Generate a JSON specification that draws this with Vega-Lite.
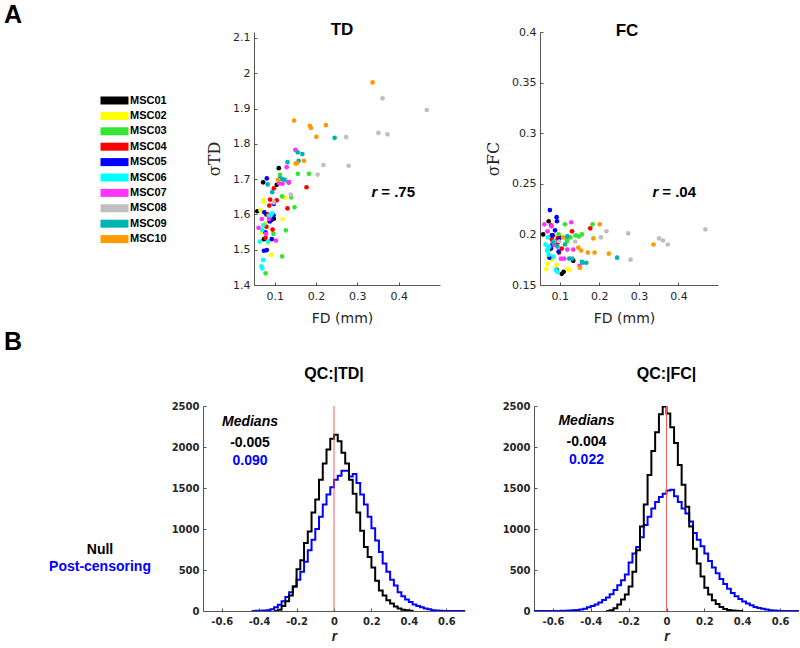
{
"$schema":"https://vega.github.io/schema/vega-lite/v6.json",
"background":"white",
"padding":{"left":4,"top":2,"right":0,"bottom":0},
"config":{
 "view":{"stroke":null},
 "axis":{"grid":false,"domainColor":"#555555","tickColor":"#555555","labelColor":"#262626","titleColor":"#262626","labelFont":"DejaVu Sans","labelFontSize":11,"tickSize":-3,"labelPadding":7,"titleFont":"DejaVu Sans","titleFontWeight":"normal","domainWidth":1,"labelOverlap":false,"labelFlush":false},
 "title":{"font":"Liberation Sans","fontWeight":"bold","color":"#000000","frame":"group"},
 "legend":{"labelFont":"Liberation Sans","labelFontWeight":"bold","labelColor":"#000000","padding":0}
},
"datasets":{
 "scatter":[
  {"subject":"MSC01","FD":0.058,"TD":1.609,"FC":0.200},{"subject":"MSC01","FD":0.072,"TD":1.691,"FC":0.213},{"subject":"MSC01","FD":0.074,"TD":1.530,"FC":0.186},{"subject":"MSC01","FD":0.080,"TD":1.600,"FC":0.199},{"subject":"MSC01","FD":0.092,"TD":1.590,"FC":0.165},{"subject":"MSC01","FD":0.095,"TD":1.595,"FC":0.192},{"subject":"MSC01","FD":0.098,"TD":1.588,"FC":0.197},{"subject":"MSC01","FD":0.105,"TD":1.684,"FC":0.161},{"subject":"MSC01","FD":0.110,"TD":1.731,"FC":0.163},{"subject":"MSC01","FD":0.134,"TD":1.691,"FC":0.174},
  {"subject":"MSC02","FD":0.066,"TD":1.612,"FC":0.166},{"subject":"MSC02","FD":0.069,"TD":1.549,"FC":0.171},{"subject":"MSC02","FD":0.072,"TD":1.636,"FC":0.177},{"subject":"MSC02","FD":0.073,"TD":1.641,"FC":0.184},{"subject":"MSC02","FD":0.070,"TD":1.560,"FC":0.186},{"subject":"MSC02","FD":0.092,"TD":1.486,"FC":0.170},{"subject":"MSC02","FD":0.119,"TD":1.587,"FC":0.166},{"subject":"MSC02","FD":0.125,"TD":1.648,"FC":0.165},{"subject":"MSC02","FD":0.078,"TD":1.575,"FC":0.175},{"subject":"MSC02","FD":0.085,"TD":1.520,"FC":0.192},
  {"subject":"MSC03","FD":0.078,"TD":1.433,"FC":0.197},{"subject":"MSC03","FD":0.097,"TD":1.545,"FC":0.200},{"subject":"MSC03","FD":0.113,"TD":1.712,"FC":0.210},{"subject":"MSC03","FD":0.118,"TD":1.651,"FC":0.195},{"subject":"MSC03","FD":0.118,"TD":1.481,"FC":0.193},{"subject":"MSC03","FD":0.127,"TD":1.555,"FC":0.197},{"subject":"MSC03","FD":0.140,"TD":1.648,"FC":0.199},{"subject":"MSC03","FD":0.148,"TD":1.620,"FC":0.198},{"subject":"MSC03","FD":0.156,"TD":1.715,"FC":0.200},{"subject":"MSC03","FD":0.183,"TD":1.715,"FC":0.210},
  {"subject":"MSC04","FD":0.177,"TD":1.677,"FC":0.206},{"subject":"MSC04","FD":0.098,"TD":1.674,"FC":0.182},{"subject":"MSC04","FD":0.089,"TD":1.642,"FC":0.193},{"subject":"MSC04","FD":0.087,"TD":1.625,"FC":0.190},{"subject":"MSC04","FD":0.131,"TD":1.617,"FC":0.203},{"subject":"MSC04","FD":0.095,"TD":1.557,"FC":0.196},{"subject":"MSC04","FD":0.078,"TD":1.533,"FC":0.209},{"subject":"MSC04","FD":0.083,"TD":1.600,"FC":0.199},{"subject":"MSC04","FD":0.080,"TD":1.565,"FC":0.195},{"subject":"MSC04","FD":0.105,"TD":1.640,"FC":0.186},
  {"subject":"MSC05","FD":0.081,"TD":1.702,"FC":0.199},{"subject":"MSC05","FD":0.098,"TD":1.630,"FC":0.195},{"subject":"MSC05","FD":0.075,"TD":1.606,"FC":0.224},{"subject":"MSC05","FD":0.092,"TD":1.584,"FC":0.217},{"subject":"MSC05","FD":0.078,"TD":1.549,"FC":0.186},{"subject":"MSC05","FD":0.093,"TD":1.530,"FC":0.213},{"subject":"MSC05","FD":0.081,"TD":1.499,"FC":0.190},{"subject":"MSC05","FD":0.074,"TD":1.497,"FC":0.177},{"subject":"MSC05","FD":0.097,"TD":1.598,"FC":0.183},{"subject":"MSC05","FD":0.088,"TD":1.580,"FC":0.204},
  {"subject":"MSC06","FD":0.064,"TD":1.523,"FC":0.190},{"subject":"MSC06","FD":0.068,"TD":1.453,"FC":0.184},{"subject":"MSC06","FD":0.070,"TD":1.447,"FC":0.197},{"subject":"MSC06","FD":0.070,"TD":1.556,"FC":0.186},{"subject":"MSC06","FD":0.072,"TD":1.471,"FC":0.180},{"subject":"MSC06","FD":0.073,"TD":1.570,"FC":0.188},{"subject":"MSC06","FD":0.084,"TD":1.523,"FC":0.178},{"subject":"MSC06","FD":0.086,"TD":1.596,"FC":0.193},{"subject":"MSC06","FD":0.090,"TD":1.596,"FC":0.165},{"subject":"MSC06","FD":0.094,"TD":1.603,"FC":0.163},
  {"subject":"MSC07","FD":0.150,"TD":1.783,"FC":0.169},{"subject":"MSC07","FD":0.129,"TD":1.734,"FC":0.212},{"subject":"MSC07","FD":0.111,"TD":1.688,"FC":0.176},{"subject":"MSC07","FD":0.119,"TD":1.687,"FC":0.185},{"subject":"MSC07","FD":0.134,"TD":1.691,"FC":0.185},{"subject":"MSC07","FD":0.069,"TD":1.587,"FC":0.203},{"subject":"MSC07","FD":0.061,"TD":1.562,"FC":0.210},{"subject":"MSC07","FD":0.086,"TD":1.587,"FC":0.190},{"subject":"MSC07","FD":0.103,"TD":1.526,"FC":0.176},{"subject":"MSC07","FD":0.079,"TD":1.545,"FC":0.208},
  {"subject":"MSC08","FD":0.361,"TD":1.929,"FC":0.194},{"subject":"MSC08","FD":0.468,"TD":1.896,"FC":0.205},{"subject":"MSC08","FD":0.351,"TD":1.831,"FC":0.196},{"subject":"MSC08","FD":0.373,"TD":1.827,"FC":0.190},{"subject":"MSC08","FD":0.273,"TD":1.819,"FC":0.201},{"subject":"MSC08","FD":0.218,"TD":1.740,"FC":0.203},{"subject":"MSC08","FD":0.279,"TD":1.738,"FC":0.175},{"subject":"MSC08","FD":0.204,"TD":1.713,"FC":0.197},{"subject":"MSC08","FD":0.139,"TD":1.656,"FC":0.193},{"subject":"MSC08","FD":0.098,"TD":1.634,"FC":0.193},
  {"subject":"MSC09","FD":0.245,"TD":1.817,"FC":0.177},{"subject":"MSC09","FD":0.156,"TD":1.776,"FC":0.173},{"subject":"MSC09","FD":0.167,"TD":1.771,"FC":0.172},{"subject":"MSC09","FD":0.131,"TD":1.748,"FC":0.176},{"subject":"MSC09","FD":0.158,"TD":1.752,"FC":0.172},{"subject":"MSC09","FD":0.124,"TD":1.698,"FC":0.176},{"subject":"MSC09","FD":0.119,"TD":1.700,"FC":0.198},{"subject":"MSC09","FD":0.083,"TD":1.685,"FC":0.192},{"subject":"MSC09","FD":0.094,"TD":1.663,"FC":0.188},{"subject":"MSC09","FD":0.113,"TD":1.702,"FC":0.190},
  {"subject":"MSC10","FD":0.337,"TD":1.974,"FC":0.190},{"subject":"MSC10","FD":0.147,"TD":1.866,"FC":0.187},{"subject":"MSC10","FD":0.185,"TD":1.851,"FC":0.196},{"subject":"MSC10","FD":0.188,"TD":1.845,"FC":0.182},{"subject":"MSC10","FD":0.224,"TD":1.853,"FC":0.181},{"subject":"MSC10","FD":0.201,"TD":1.820,"FC":0.210},{"subject":"MSC10","FD":0.171,"TD":1.752,"FC":0.182},{"subject":"MSC10","FD":0.151,"TD":1.744,"FC":0.167},{"subject":"MSC10","FD":0.154,"TD":1.746,"FC":0.184},{"subject":"MSC10","FD":0.108,"TD":1.698,"FC":0.197}
 ],
 "histTD":[
  {"r":-0.44,"Post-censoring":0},{"r":-0.42,"Post-censoring":2},{"r":-0.40,"Post-censoring":4},{"r":-0.38,"Post-censoring":6},{"r":-0.36,"Post-censoring":10},{"r":-0.34,"Post-censoring":20},
  {"r":-0.32,"Null":0,"Post-censoring":45},{"r":-0.30,"Null":15,"Post-censoring":75},{"r":-0.28,"Null":60,"Post-censoring":120},{"r":-0.26,"Null":120,"Post-censoring":170},{"r":-0.24,"Null":190,"Post-censoring":230},{"r":-0.22,"Null":300,"Post-censoring":300},{"r":-0.20,"Null":510,"Post-censoring":380},{"r":-0.18,"Null":620,"Post-censoring":480},{"r":-0.16,"Null":830,"Post-censoring":600},{"r":-0.14,"Null":970,"Post-censoring":740},{"r":-0.12,"Null":1200,"Post-censoring":870},{"r":-0.10,"Null":1360,"Post-censoring":1000},{"r":-0.08,"Null":1600,"Post-censoring":1150},{"r":-0.06,"Null":1800,"Post-censoring":1300},{"r":-0.04,"Null":1970,"Post-censoring":1420},{"r":-0.02,"Null":2100,"Post-censoring":1510},{"r":0.00,"Null":2150,"Post-censoring":1600},{"r":0.02,"Null":2070,"Post-censoring":1650},{"r":0.04,"Null":1930,"Post-censoring":1710},{"r":0.06,"Null":1800,"Post-censoring":1710},{"r":0.08,"Null":1600,"Post-censoring":1640},{"r":0.10,"Null":1430,"Post-censoring":1670},{"r":0.12,"Null":1200,"Post-censoring":1560},{"r":0.14,"Null":980,"Post-censoring":1420},{"r":0.16,"Null":780,"Post-censoring":1300},{"r":0.18,"Null":660,"Post-censoring":1150},{"r":0.20,"Null":530,"Post-censoring":1010},{"r":0.22,"Null":370,"Post-censoring":860},{"r":0.24,"Null":250,"Post-censoring":720},{"r":0.26,"Null":190,"Post-censoring":580},{"r":0.28,"Null":130,"Post-censoring":480},{"r":0.30,"Null":90,"Post-censoring":380},{"r":0.32,"Null":55,"Post-censoring":310},{"r":0.34,"Null":30,"Post-censoring":230},{"r":0.36,"Null":15,"Post-censoring":180},{"r":0.38,"Null":8,"Post-censoring":140},{"r":0.40,"Null":3,"Post-censoring":110},{"r":0.42,"Null":0,"Post-censoring":80},
  {"r":0.44,"Post-censoring":60},{"r":0.46,"Post-censoring":45},{"r":0.48,"Post-censoring":30},{"r":0.50,"Post-censoring":20},{"r":0.52,"Post-censoring":10},{"r":0.54,"Post-censoring":5},{"r":0.56,"Post-censoring":2},{"r":0.58,"Post-censoring":0},{"r":0.70,"Post-censoring":0}
 ],
 "histFC":[
  {"r":-0.70,"Post-censoring":0},{"r":-0.56,"Post-censoring":2},{"r":-0.54,"Post-censoring":3},{"r":-0.52,"Post-censoring":5},{"r":-0.50,"Post-censoring":8},{"r":-0.48,"Post-censoring":12},{"r":-0.46,"Post-censoring":18},{"r":-0.44,"Post-censoring":28},{"r":-0.42,"Post-censoring":45},{"r":-0.40,"Post-censoring":60},{"r":-0.38,"Post-censoring":80},{"r":-0.36,"Post-censoring":105},{"r":-0.34,"Post-censoring":135},
  {"r":-0.32,"Null":0,"Post-censoring":165},{"r":-0.30,"Null":8,"Post-censoring":205},{"r":-0.28,"Null":35,"Post-censoring":255},{"r":-0.26,"Null":80,"Post-censoring":315},{"r":-0.24,"Null":140,"Post-censoring":375},{"r":-0.22,"Null":200,"Post-censoring":445},{"r":-0.20,"Null":300,"Post-censoring":590},{"r":-0.18,"Null":480,"Post-censoring":700},{"r":-0.16,"Null":740,"Post-censoring":780},{"r":-0.14,"Null":1030,"Post-censoring":900},{"r":-0.12,"Null":1300,"Post-censoring":1050},{"r":-0.10,"Null":1660,"Post-censoring":1150},{"r":-0.08,"Null":1950,"Post-censoring":1250},{"r":-0.06,"Null":2180,"Post-censoring":1330},{"r":-0.04,"Null":2400,"Post-censoring":1390},{"r":-0.02,"Null":2495,"Post-censoring":1430},{"r":0.00,"Null":2410,"Post-censoring":1470},{"r":0.02,"Null":2240,"Post-censoring":1480},{"r":0.04,"Null":2050,"Post-censoring":1400},{"r":0.06,"Null":1780,"Post-censoring":1330},{"r":0.08,"Null":1540,"Post-censoring":1250},{"r":0.10,"Null":1270,"Post-censoring":1190},{"r":0.12,"Null":1030,"Post-censoring":1090},{"r":0.14,"Null":760,"Post-censoring":950},{"r":0.16,"Null":580,"Post-censoring":870},{"r":0.18,"Null":420,"Post-censoring":790},{"r":0.20,"Null":285,"Post-censoring":700},{"r":0.22,"Null":200,"Post-censoring":610},{"r":0.24,"Null":130,"Post-censoring":530},{"r":0.26,"Null":85,"Post-censoring":460},{"r":0.28,"Null":50,"Post-censoring":390},{"r":0.30,"Null":25,"Post-censoring":330},{"r":0.32,"Null":12,"Post-censoring":270},{"r":0.34,"Null":6,"Post-censoring":220},{"r":0.36,"Null":3,"Post-censoring":180},{"r":0.38,"Null":1,"Post-censoring":145},{"r":0.40,"Null":0,"Post-censoring":115},
  {"r":0.42,"Post-censoring":90},{"r":0.44,"Post-censoring":70},{"r":0.46,"Post-censoring":50},{"r":0.48,"Post-censoring":38},{"r":0.50,"Post-censoring":28},{"r":0.52,"Post-censoring":18},{"r":0.54,"Post-censoring":10},{"r":0.56,"Post-censoring":5},{"r":0.58,"Post-censoring":2},{"r":0.60,"Post-censoring":0},{"r":0.70,"Post-censoring":0}
 ]
},
"vconcat":[
 {
  "hconcat":[
   {"width":150,"height":253,"title":{"text":"A","anchor":"start","baseline":"alphabetic","offset":-15.5,"fontSize":25},"data":{"values":[{"k":1}]},"mark":{"type":"point","opacity":0}},
   {
    "width":186,"height":253,
    "title":{"text":"TD","anchor":"middle","baseline":"alphabetic","offset":-20,"fontSize":17,"dx":-5},
    "data":{"name":"scatter"},
    "layer":[
     {"mark":{"type":"circle","size":22,"opacity":1},
      "encoding":{
       "x":{"field":"FD","type":"quantitative","scale":{"domain":[0.05,0.5],"nice":false,"zero":false},"axis":{"values":[0.1,0.2,0.3,0.4],"tickCount":10,"format":"~g","labelOverlap":false,"title":"FD (mm)","titleFontSize":14,"titlePadding":10,"labelPadding":8,"titleX":88}},
       "y":{"field":"TD","type":"quantitative","scale":{"domain":[1.4,2.117],"nice":false,"zero":false},"axis":{"values":[1.4,1.5,1.6,1.7,1.8,1.9,2,2.1],"tickCount":12,"labelExpr":"datum.value > 1.95 && datum.value < 2.05 ? '2' : format(datum.value, '.1f')","labelOverlap":false,"title":"σTD","titleFont":"DejaVu Serif","titleFontSize":16,"titlePadding":10,"labelPadding":7}},
       "color":{"field":"subject","type":"nominal","scale":{"domain":["MSC01","MSC02","MSC03","MSC04","MSC05","MSC06","MSC07","MSC08","MSC09","MSC10"],"range":["#000000","#ffff00","#33e633","#ff0000","#0000ff","#00ffff","#ff33ff","#bfbfbf","#00b3b3","#ff9900"]},
        "legend":{"orient":"none","legendX":-155,"legendY":63,"title":null,"symbolType":"M-1,-1H6V1H-1Z","symbolSize":64,"symbolStrokeWidth":0,"symbolOpacity":1,"labelOffset":20,"labelFontSize":11,"rowPadding":3.4}}
      }},
     {"data":{"values":[{"t":"r"}]},"mark":{"type":"text","font":"Liberation Sans","fontSize":15,"fontWeight":"bold","fontStyle":"italic","align":"right","baseline":"middle","dx":-2},"encoding":{"text":{"field":"t"},"x":{"datum":0.353},"y":{"datum":1.663}}},
     {"data":{"values":[{"t":"= .75"}]},"mark":{"type":"text","font":"Liberation Sans","fontSize":15,"fontWeight":"bold","align":"left","baseline":"middle","dx":2},"encoding":{"text":{"field":"t"},"x":{"datum":0.353},"y":{"datum":1.663}}}
    ]
   },
   {
    "width":178,"height":253,
    "title":{"text":"FC","anchor":"middle","baseline":"alphabetic","offset":-26.5,"fontSize":17,"dx":-2},
    "data":{"name":"scatter"},
    "layer":[
     {"mark":{"type":"circle","size":22,"opacity":1},
      "encoding":{
       "x":{"field":"FD","type":"quantitative","scale":{"domain":[0.05,0.5],"nice":false,"zero":false},"axis":{"values":[0.1,0.2,0.3,0.4],"tickCount":10,"format":"~g","labelOverlap":false,"title":"FD (mm)","titleFontSize":14,"titlePadding":10,"labelPadding":8,"titleX":84}},
       "y":{"field":"FC","type":"quantitative","scale":{"domain":[0.15,0.4],"nice":false,"zero":false},"axis":{"values":[0.15,0.2,0.25,0.3,0.35,0.4],"tickCount":10,"format":"~g","labelOverlap":false,"title":"σFC","titleFont":"DejaVu Serif","titleFontSize":16,"titlePadding":10,"labelPadding":7}},
       "color":{"field":"subject","type":"nominal","scale":{"domain":["MSC01","MSC02","MSC03","MSC04","MSC05","MSC06","MSC07","MSC08","MSC09","MSC10"],"range":["#000000","#ffff00","#33e633","#ff0000","#0000ff","#00ffff","#ff33ff","#bfbfbf","#00b3b3","#ff9900"]},"legend":null}
      }},
     {"data":{"values":[{"t":"r"}]},"mark":{"type":"text","font":"Liberation Sans","fontSize":15,"fontWeight":"bold","fontStyle":"italic","align":"right","baseline":"middle","dx":-2},"encoding":{"text":{"field":"t"},"x":{"datum":0.354},"y":{"datum":0.242}}},
     {"data":{"values":[{"t":"= .04"}]},"mark":{"type":"text","font":"Liberation Sans","fontSize":15,"fontWeight":"bold","align":"left","baseline":"middle","dx":2},"encoding":{"text":{"field":"t"},"x":{"datum":0.354},"y":{"datum":0.242}}}
    ]
   }
  ],
  "spacing":100,"bounds":"flush",
  "resolve":{"scale":{"color":"independent"},"legend":{"color":"independent"}}
 },
 {
  "hconcat":[
   {"width":130,"height":205,"title":{"text":"B","anchor":"start","baseline":"alphabetic","offset":31.5,"fontSize":25},"data":{"values":[{"k":1}]},"mark":{"type":"point","opacity":0}},
   {
    "width":262,"height":205,
    "title":{"text":"QC:|TD|","anchor":"middle","baseline":"alphabetic","offset":6,"fontSize":16},
    "layer":[
     {"data":{"name":"histTD"},"transform":[{"fold":["Null","Post-censoring"],"as":["series","count"]},{"filter":"isValid(datum.count) && datum.series === 'Post-censoring'"}],
      "mark":{"type":"line","interpolate":"step-after","strokeWidth":2,"clip":true},
      "encoding":{
       "x":{"field":"r","type":"quantitative","scale":{"domain":[-0.7,0.7],"nice":false,"zero":false},"axis":{"values":[-0.6,-0.4,-0.2,0,0.2,0.4,0.6],"tickCount":10,"labelExpr":"replace(format(datum.value,'~g'),'−','-')","labelOverlap":false,"labelFontSize":10,"labelFontWeight":"bold","labelPadding":8,"title":"r","titleFont":"Liberation Sans","titleFontStyle":"italic","titleFontWeight":"bold","titleFontSize":14,"titlePadding":3}},
       "y":{"field":"count","type":"quantitative","scale":{"domain":[0,2500],"nice":false},"axis":{"values":[0,500,1000,1500,2000,2500],"tickCount":10,"format":"d","labelOverlap":false,"labelFontSize":10,"labelFontWeight":"bold","labelPadding":7,"title":null}},
       "color":{"field":"series","type":"nominal","scale":{"domain":["Null","Post-censoring"],"range":["#000000","#0000ff"]},
        "legend":{"orient":"none","legendX":-117,"legendY":137,"title":null,"symbolOpacity":0,"symbolSize":0,"labelAlign":"center","labelOffset":0,"labelFontSize":14,"rowPadding":3,"labelLimit":300,"encode":{"labels":{"update":{"fill":{"signal":"datum.value === 'Null' ? '#000000' : '#0000ff'"}}}}}}
      }},
     {"data":{"name":"histTD"},"transform":[{"fold":["Null","Post-censoring"],"as":["series","count"]},{"filter":"isValid(datum.count) && datum.series === 'Null'"}],
      "mark":{"type":"line","interpolate":"step-after","strokeWidth":2,"clip":true},
      "encoding":{
       "x":{"field":"r","type":"quantitative"},
       "y":{"field":"count","type":"quantitative"},
       "color":{"field":"series","type":"nominal","scale":{"domain":["Null","Post-censoring"],"range":["#000000","#0000ff"]}}
      }},
     {"data":{"values":[{"r":0}]},"mark":{"type":"rule","color":"#ff5a5a","strokeWidth":1},"encoding":{"x":{"field":"r","type":"quantitative"}}},
     {"data":{"values":[{"t":"Medians"}]},"mark":{"type":"text","font":"Liberation Sans","fontSize":14,"fontWeight":"bold","fontStyle":"italic","align":"center","baseline":"middle"},"encoding":{"text":{"field":"t"},"x":{"datum":-0.449},"y":{"datum":2305}}},
     {"data":{"values":[{"t":"-0.005"}]},"mark":{"type":"text","font":"Liberation Sans","fontSize":14,"fontWeight":"bold","align":"center","baseline":"middle","color":"#000000"},"encoding":{"text":{"field":"t"},"x":{"datum":-0.449},"y":{"datum":2049}}},
     {"data":{"values":[{"t":"0.090"}]},"mark":{"type":"text","font":"Liberation Sans","fontSize":14,"fontWeight":"bold","align":"center","baseline":"middle","color":"#0000ff"},"encoding":{"text":{"field":"t"},"x":{"datum":-0.449},"y":{"datum":1829}}}
    ]
   },
   {
    "width":265,"height":205,
    "title":{"text":"QC:|FC|","anchor":"middle","baseline":"alphabetic","offset":6,"fontSize":16},
    "layer":[
     {"data":{"name":"histFC"},"transform":[{"fold":["Null","Post-censoring"],"as":["series","count"]},{"filter":"isValid(datum.count) && datum.series === 'Post-censoring'"}],
      "mark":{"type":"line","interpolate":"step-after","strokeWidth":2,"clip":true},
      "encoding":{
       "x":{"field":"r","type":"quantitative","scale":{"domain":[-0.7,0.7],"nice":false,"zero":false},"axis":{"values":[-0.6,-0.4,-0.2,0,0.2,0.4,0.6],"tickCount":10,"labelExpr":"replace(format(datum.value,'~g'),'−','-')","labelOverlap":false,"labelFontSize":10,"labelFontWeight":"bold","labelPadding":8,"title":"r","titleFont":"Liberation Sans","titleFontStyle":"italic","titleFontWeight":"bold","titleFontSize":14,"titlePadding":3}},
       "y":{"field":"count","type":"quantitative","scale":{"domain":[0,2500],"nice":false},"axis":{"values":[0,500,1000,1500,2000,2500],"tickCount":10,"format":"d","labelOverlap":false,"labelFontSize":10,"labelFontWeight":"bold","labelPadding":7,"title":null}},
       "color":{"field":"series","type":"nominal","scale":{"domain":["Null","Post-censoring"],"range":["#000000","#0000ff"]},"legend":null}
      }},
     {"data":{"name":"histFC"},"transform":[{"fold":["Null","Post-censoring"],"as":["series","count"]},{"filter":"isValid(datum.count) && datum.series === 'Null'"}],
      "mark":{"type":"line","interpolate":"step-after","strokeWidth":2,"clip":true},
      "encoding":{
       "x":{"field":"r","type":"quantitative"},
       "y":{"field":"count","type":"quantitative"},
       "color":{"field":"series","type":"nominal","scale":{"domain":["Null","Post-censoring"],"range":["#000000","#0000ff"]},"legend":null}
      }},
     {"data":{"values":[{"r":0}]},"mark":{"type":"rule","color":"#ff5a5a","strokeWidth":1},"encoding":{"x":{"field":"r","type":"quantitative"}}},
     {"data":{"values":[{"t":"Medians"}]},"mark":{"type":"text","font":"Liberation Sans","fontSize":14,"fontWeight":"bold","fontStyle":"italic","align":"center","baseline":"middle"},"encoding":{"text":{"field":"t"},"x":{"datum":-0.423},"y":{"datum":2316}}},
     {"data":{"values":[{"t":"-0.004"}]},"mark":{"type":"text","font":"Liberation Sans","fontSize":14,"fontWeight":"bold","align":"center","baseline":"middle","color":"#000000"},"encoding":{"text":{"field":"t"},"x":{"datum":-0.423},"y":{"datum":2055}}},
     {"data":{"values":[{"t":"0.022"}]},"mark":{"type":"text","font":"Liberation Sans","fontSize":14,"fontWeight":"bold","align":"center","baseline":"middle","color":"#0000ff"},"encoding":{"text":{"field":"t"},"x":{"datum":-0.423},"y":{"datum":1838}}}
    ]
   }
  ],
  "spacing":69,"bounds":"flush",
  "resolve":{"scale":{"color":"independent"},"legend":{"color":"independent"}}
 }
],
"spacing":4,"bounds":"full",
"resolve":{"scale":{"color":"independent"},"legend":{"color":"independent"}}
}
